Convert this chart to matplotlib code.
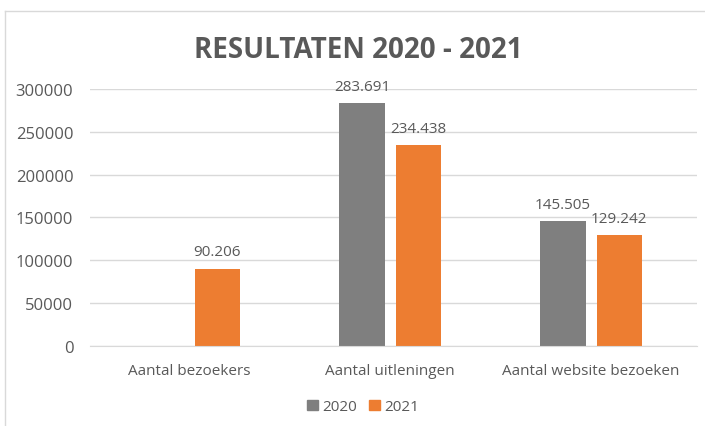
import matplotlib
matplotlib.use("Agg")
import matplotlib.pyplot as plt
import numpy as np

categories = ["Aantal bezoekers", "Aantal uitleningen", "Aantal website bezoeken"]
values_2020 = [None, 283691, 145505]
values_2021 = [90206, 234438, 129242]
yticks = [0, 50000, 100000, 150000, 200000, 250000, 300000]

gray = "#7f7f7f"
orange = "#ed7d31"
txt = "#595959"

plt.rcParams["font.family"] = ["Open Sans", "DejaVu Sans"]

fig = plt.figure(figsize=(7.05, 4.27), dpi=100)
ax = fig.add_axes([0.1277, 0.1874, 0.861, 0.6018])

x = np.arange(len(categories))
w = 0.225
off = 0.14


def fmt(v):
    return f"{v:,}".replace(",", ".")


for i, v in enumerate(values_2020):
    if v is None:
        continue
    ax.bar(x[i] - off, v, w, color=gray, zorder=2)
    ax.text(x[i] - off, v + 11000, fmt(v), ha="center", va="bottom", fontsize=11, color=txt)
for i, v in enumerate(values_2021):
    ax.bar(x[i] + off, v, w, color=orange, zorder=2)
    ax.text(x[i] + off, v + 11000, fmt(v), ha="center", va="bottom", fontsize=11, color=txt)

ax.set_xlim(-0.4925, 2.527)
ax.set_ylim(0, 300000)
ax.set_yticks(yticks)
ax.set_yticklabels([str(t) for t in yticks], fontsize=12, color=txt)
ax.set_xticks(x)
ax.set_xticklabels(categories, fontsize=11, color=txt)
ax.tick_params(length=0, axis="both")
ax.tick_params(axis="y", pad=12)
ax.tick_params(axis="x", pad=12)
ax.grid(axis="y", color="#d9d9d9", linewidth=1, zorder=0)
for s in ["top", "right", "left"]:
    ax.spines[s].set_visible(False)
ax.spines["bottom"].set_color("#d9d9d9")

fig.text(0.508, 0.881, "RESULTATEN 2020 - 2021", ha="center", va="center",
         fontsize=20, fontweight="bold", color=txt)

handles = [plt.Rectangle((0, 0), 1, 1, color=gray), plt.Rectangle((0, 0), 1, 1, color=orange)]
fig.legend(handles, ["2020", "2021"], loc="center", bbox_to_anchor=(0.515, 0.045), ncol=2,
           frameon=False, fontsize=11, handlelength=0.7, handleheight=0.7,
           handletextpad=0.3, columnspacing=0.8, labelcolor=txt)

# faint outer border
fig.add_artist(plt.Line2D([0.007, 0.007], [0, 0.972], color="#d9d9d9", linewidth=1))
fig.add_artist(plt.Line2D([0.007, 1.0], [0.972, 0.972], color="#d9d9d9", linewidth=1))

fig.savefig("out.png", dpi=100)
